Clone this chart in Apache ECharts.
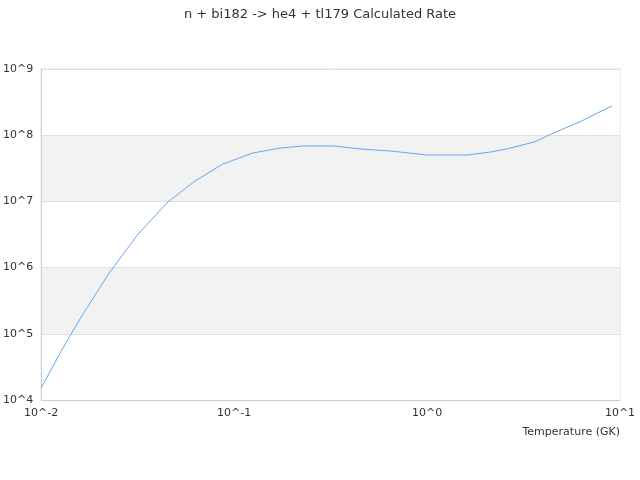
<!DOCTYPE html>
<html>
<head>
<meta charset="utf-8">
<script src="https://cdn.jsdelivr.net/npm/echarts@6/dist/echarts.min.js"></script>
<style>
  html, body { margin: 0; padding: 0; background: #fff; }
  #main { width: 640px; height: 480px; }
</style>
</head>
<body>
<div id="main"></div>
<script>
// temperature (GK) and rate
var temps = [0.01, 0.0127, 0.0161, 0.0225, 0.0318, 0.0454, 0.0627, 0.0874, 0.125, 0.174, 0.227,
  0.328, 0.452, 0.647, 1.0, 1.62, 2.13, 2.59, 3.64, 4.35, 6.22, 7.59, 9.07];
var rates = [1.52e4, 5.5e4, 1.79e5, 8.28e5, 3.22e6, 9.8e6, 2.03e7, 3.67e7, 5.38e7, 6.41e7, 6.87e7,
  6.87e7, 6.19e7, 5.77e7, 5.02e7, 5.02e7, 5.57e7, 6.2e7, 7.98e7, 1.03e8, 1.6e8, 2.14e8, 2.76e8];

var titleText = 'n + bi182 -> he4 + tl179 Calculated Rate';
var xName = 'Temperature (GK)';

var points = [];
for (var i = 0; i < temps.length; i++) {
  points.push([temps[i], rates[i]]);
}

function powLabel(v) {
  return '10^' + Math.round(Math.log10(v));
}

var font = 'DejaVu Sans';
var myChart = echarts.init(document.getElementById('main'));

var option = {
  animation: false,
  textStyle: { fontFamily: font },
  title: {
    text: titleText,
    left: 'center',
    top: 3,
    textStyle: { fontSize: 13, fontWeight: 'normal', color: '#333', fontFamily: font }
  },
  grid: {
    left: 40, right: 20, top: 69, bottom: 80,
    show: true,
    borderColor: '#ddd',
    borderWidth: 1
  },
  xAxis: {
    type: 'log',
    logBase: 10,
    min: 0.01,
    max: 10,
    name: xName,
    nameLocation: 'end',
    nameGap: 0,
    nameTextStyle: { align: 'right', verticalAlign: 'top', padding: [27, 0, 0, 0], color: '#333', fontSize: 11, fontFamily: font },
    axisLine: { lineStyle: { color: '#ccc' } },
    axisTick: { show: false },
    splitLine: { show: false },
    axisLabel: { formatter: powLabel, color: '#333', fontSize: 11, margin: 8, fontFamily: font }
  },
  yAxis: {
    type: 'log',
    logBase: 10,
    min: 1e4,
    max: 1e9,
    axisLine: { show: true, lineStyle: { color: '#ccc' } },
    axisTick: { show: false },
    splitLine: { show: true, lineStyle: { color: '#e0e0e0' } },
    splitArea: { show: true, areaStyle: { color: ['#ffffff', '#f2f2f2'] } },
    axisLabel: { formatter: powLabel, color: '#333', fontSize: 11, margin: 8, fontFamily: font }
  },
  series: [{
    type: 'line',
    data: points,
    showSymbol: false,
    lineStyle: { color: '#64a8f0', width: 1 }
  }]
};
myChart.setOption(option);
</script>
</body>
</html>
